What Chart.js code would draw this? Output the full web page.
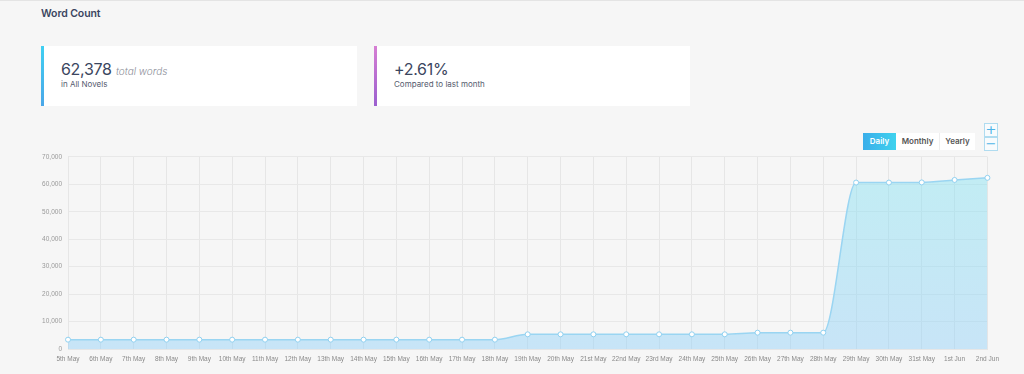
<!DOCTYPE html>
<html>
<head>
<meta charset="utf-8">
<script src="https://cdn.jsdelivr.net/npm/chart.js@4/dist/chart.umd.min.js"></script>
<style>
  html, body { margin: 0; padding: 0; }
  body { width: 1024px; height: 374px; background: #f6f6f6; position: relative; overflow: hidden; font-family: Inter, "Open Sans", sans-serif; border-top: 1px solid #e4e4e4; box-sizing: border-box; }
  .title { position: absolute; left: 41px; top: 6px; font-size: 10.5px; font-weight: 600; color: #3a4560; letter-spacing: -0.1px; }
  .card { position: absolute; top: 45px; width: 313px; height: 60px; background: #fff; border-left: 3px solid; }
  .c1 { left: 41px; border-image: linear-gradient(#3fd0f2, #4aa6e8) 1; }
  .c2 { left: 374px; border-image: linear-gradient(#d77fd3, #9a5fcf) 1; }
  .big { position: absolute; left: 17px; top: 13px; font-size: 16px; color: #3b4660; font-weight: 400; letter-spacing: -0.3px; white-space: nowrap; }
  .big i { font-size: 10px; color: #8d8f9a; font-weight: 300; letter-spacing: 0; }
  .sub { position: absolute; left: 17px; top: 33px; font-size: 8px; color: #555b6e; white-space: nowrap; }
  .btns { position: absolute; left: 863px; top: 132px; height: 17px; display: flex; background: #fff; }
  .btns div { font-size: 8px; font-weight: 600; color: #555; line-height: 17px; text-align: center; }
  .b1 { width: 33px; background: linear-gradient(90deg, #3aaeea, #3fd2ee); color: #fff !important; }
  .b2 { width: 43px; border-right: 1px solid #eee; }
  .b3 { width: 35px; }
  .z { position: absolute; left: 984px; width: 12px; height: 12px; border: 1px solid #b0dcf0; color: #4db4e8; font-size: 13px; line-height: 11px; text-align: center; background: #f8fbfd; font-family: "DejaVu Sans", sans-serif; }
  #wrap { position: absolute; left: 0; top: 146px; width: 1005px; height: 228px; }
</style>
</head>
<body>
<div class="title">Word Count</div>
<div class="card c1"><div class="big">62,378 <i>total words</i></div><div class="sub">in All Novels</div></div>
<div class="card c2"><div class="big">+2.61%</div><div class="sub">Compared to last month</div></div>
<div class="btns"><div class="b1">Daily</div><div class="b2">Monthly</div><div class="b3">Yearly</div></div>
<div class="z" style="top:122px">+</div>
<div class="z" style="top:136px">&minus;</div>
<div id="wrap"><canvas id="c"></canvas></div>
<script>
const dayLabels = ["5th May","6th May","7th May","8th May","9th May","10th May","11th May","12th May","13th May","14th May","15th May","16th May","17th May","18th May","19th May","20th May","21st May","22nd May","23rd May","24th May","25th May","26th May","27th May","28th May","29th May","30th May","31st May","1st Jun","2nd Jun"];
const wordCounts = [3400,3400,3400,3400,3400,3400,3400,3400,3400,3400,3400,3400,3400,3400,5350,5350,5350,5350,5350,5350,5350,5950,5950,5950,60650,60650,60700,61600,62378];
const yTicks = [0,10000,20000,30000,40000,50000,60000,70000];

function fillGradient(ctx) {
  const area = ctx.chart.chartArea;
  if (!area) return 'rgba(150,215,245,0.5)';
  const g = ctx.chart.ctx.createLinearGradient(0, area.top, 0, area.bottom);
  g.addColorStop(0, 'rgba(140,228,240,0.5)');
  g.addColorStop(1, 'rgba(152,210,247,0.5)');
  return g;
}

new Chart(document.getElementById('c'), {
  type: 'line',
  data: {
    labels: dayLabels,
    datasets: [{
      data: wordCounts,
      borderColor: '#9ad5f2',
      borderWidth: 1.5,
      backgroundColor: fillGradient,
      fill: 'origin',
      cubicInterpolationMode: 'monotone',
      pointRadius: 2.5,
      pointBackgroundColor: '#ffffff',
      pointBorderColor: '#8fd0f0',
      pointBorderWidth: 1
    }]
  },
  options: {
    responsive: true,
    maintainAspectRatio: false,
    animation: false,
    layout: { padding: { top: 6, right: 8, bottom: 0, left: 0 } },
    plugins: { legend: { display: false }, tooltip: { enabled: false } },
    scales: {
      x: {
        grid: { color: '#e6e6e6', drawTicks: false },
        border: { color: '#e6e6e6' },
        ticks: { color: '#8a8a8a', font: { family: 'Liberation Sans', size: 6.5 }, padding: 6, maxRotation: 0, autoSkip: false },
        afterFit: s => { s.height = 26; }
      },
      y: {
        min: 0, max: 70000,
        afterBuildTicks: s => { s.ticks = yTicks.map(v => ({ value: v })); },
        grid: { color: '#e8e8e8', drawTicks: false },
        border: { color: '#e6e6e6' },
        ticks: { color: '#999', font: { family: 'Liberation Sans', size: 6.5 }, padding: 6, callback: v => v.toLocaleString('en-US') },
        afterFit: s => { s.width = 68; }
      }
    }
  }
});
</script>
</body>
</html>
